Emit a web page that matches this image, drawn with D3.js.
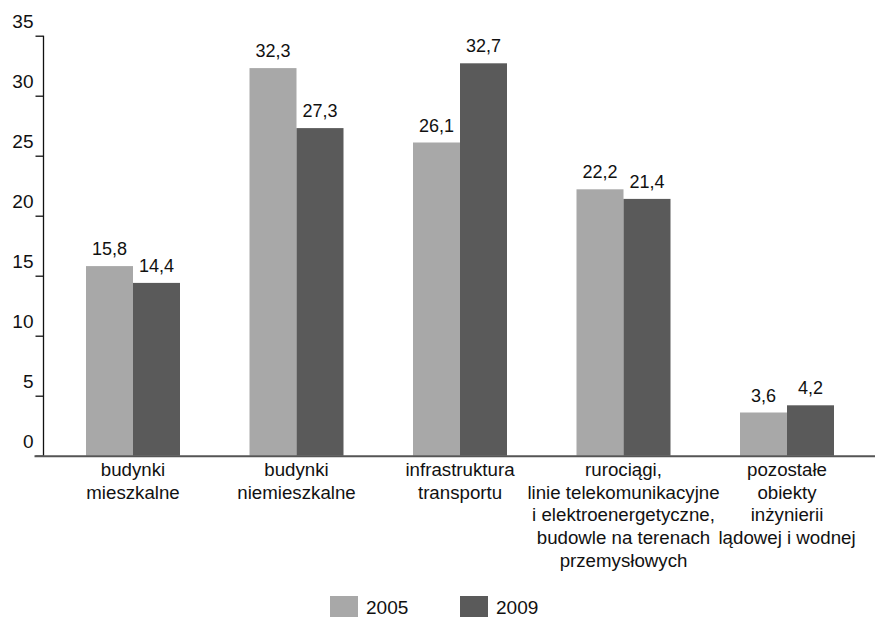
<!DOCTYPE html>
<html>
<head>
<meta charset="utf-8">
<script src="https://cdn.jsdelivr.net/npm/d3@7"></script>
<style>
  html, body { margin: 0; padding: 0; background: #fff; }
  svg { display: block; font-family: "Liberation Sans", Arial, sans-serif; }
</style>
</head>
<body>
<svg id="chart" width="875" height="617"></svg>
<script>
// Categories (each entry is the list of label lines)
const categories = [
  ["budynki", "mieszkalne"],
  ["budynki", "niemieszkalne"],
  ["infrastruktura", "transportu"],
  ["rurociągi,", "linie telekomunikacyjne", "i elektroenergetyczne,", "budowle na terenach", "przemysłowych"],
  ["pozostałe", "obiekty", "inżynierii", "lądowej i wodnej"]
];
const seriesNames = ["2005", "2009"];
const values2005 = [15.8, 32.3, 26.1, 22.2, 3.6];
const values2009 = [14.4, 27.3, 32.7, 21.4, 4.2];
const yTicks = [0, 5, 10, 15, 20, 25, 30, 35];
const colors = ["#a8a8a8", "#5a5a5a"];

const series = [values2005, values2009];
const fmt = v => d3.format(".1f")(v).replace(".", ",");

const svg = d3.select("#chart");

const axisX = 43.5;
const y = d3.scaleLinear().domain([0, 35]).range([455.7, 35.7]);

const step = 163.5;
const pairW = 94;
const p = 1 - pairW / step;
const x0 = d3.scaleBand()
  .domain(d3.range(categories.length))
  .range([51.25, 51.25 + step * categories.length])
  .paddingInner(p)
  .paddingOuter(p / 2);
const x1 = d3.scaleBand().domain(d3.range(series.length)).range([0, x0.bandwidth()]);

// Bars
const groups = svg.append("g").selectAll("g")
  .data(categories.map((c, i) => i))
  .join("g")
  .attr("transform", i => `translate(${x0(i)},0)`);

groups.selectAll("rect")
  .data(i => series.map((s, k) => ({ k, v: s[i] })))
  .join("rect")
  .attr("x", d => x1(d.k))
  .attr("width", x1.bandwidth())
  .attr("y", d => y(d.v))
  .attr("height", d => y(0) - y(d.v))
  .attr("fill", d => colors[d.k]);

// Value labels
groups.selectAll("text.val")
  .data(i => series.map((s, k) => ({ k, v: s[i] })))
  .join("text")
  .attr("class", "val")
  .attr("x", d => x1(d.k) + x1.bandwidth() / 2)
  .attr("y", d => y(d.v) - 11)
  .attr("text-anchor", "middle")
  .attr("font-size", 18)
  .attr("fill", "#111")
  .text(d => fmt(d.v));

// Y axis
const yAxis = d3.axisLeft(y).tickValues(yTicks).tickSize(8).tickFormat(d3.format("d"));
const gy = svg.append("g").attr("transform", `translate(${axisX},0)`).call(yAxis);
gy.select(".domain").attr("d", `M0,${y(35)}V${y(0)}`).attr("stroke", "#111").attr("stroke-width", 1.3);
gy.selectAll(".tick line").attr("stroke", "#111").attr("stroke-width", 1.3);
gy.selectAll(".tick text")
  .attr("x", -10)
  .attr("dy", "-8px")
  .attr("font-size", 19)
  .attr("font-family", "Liberation Sans, Arial, sans-serif")
  .attr("fill", "#111");

// X axis baseline
svg.append("line")
  .attr("x1", axisX - 9).attr("x2", 875)
  .attr("y1", y(0) + 0.5).attr("y2", y(0) + 0.5)
  .attr("stroke", "#555").attr("stroke-width", 2);

// Category labels
const catG = svg.append("g").selectAll("text")
  .data(categories)
  .join("text")
  .attr("text-anchor", "middle")
  .attr("font-size", 18.7)
  .attr("fill", "#111")
  .attr("transform", (c, i) => `translate(${x0(i) + x0.bandwidth() / 2},476)`);
catG.selectAll("tspan")
  .data(c => c)
  .join("tspan")
  .attr("x", 0)
  .attr("dy", (d, j) => j === 0 ? 0 : 22.7)
  .text(d => d);

// Legend
const legend = svg.append("g").selectAll("g")
  .data(seriesNames)
  .join("g")
  .attr("transform", (d, i) => `translate(${330 + i * 130},596)`);
legend.append("rect")
  .attr("width", 28).attr("height", 21)
  .attr("fill", (d, i) => colors[i]);
legend.append("text")
  .attr("x", 36).attr("y", 18)
  .attr("font-size", 19)
  .attr("fill", "#111")
  .text(d => d);
</script>
</body>
</html>
